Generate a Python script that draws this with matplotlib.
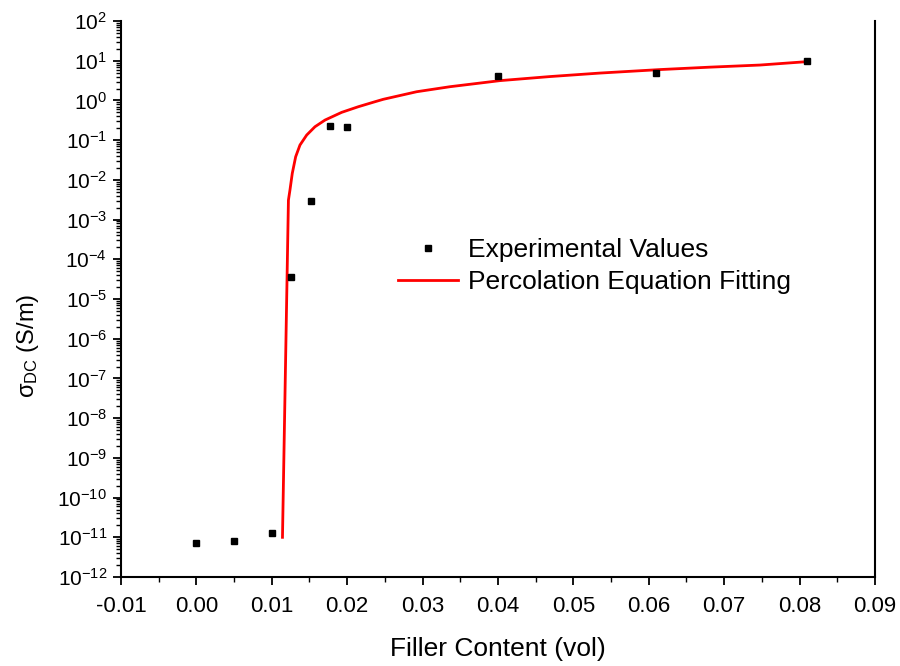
import matplotlib
matplotlib.use('Agg')
import matplotlib.pyplot as plt
from matplotlib.ticker import LogLocator, MultipleLocator, FormatStrFormatter, NullFormatter

matplotlib.rcParams['font.family'] = ['Liberation Sans', 'DejaVu Sans']
matplotlib.rcParams['mathtext.fontset'] = 'custom'
matplotlib.rcParams['mathtext.rm'] = 'Liberation Sans'
matplotlib.rcParams['mathtext.it'] = 'Liberation Sans:italic'
matplotlib.rcParams['mathtext.bf'] = 'Liberation Sans:bold'
matplotlib.rcParams['axes.unicode_minus'] = False

# measured conductivity vs filler volume fraction
filler = [0.0, 0.005, 0.010, 0.0126, 0.0152, 0.0177, 0.020, 0.040, 0.061, 0.081]
sigma = [7.3e-12, 8.1e-12, 1.32e-11, 3.5e-5, 2.95e-3, 0.227, 0.22, 4.2, 4.9, 9.8]

# percolation fit curve
fit_x = [0.01142, 0.01221, 0.01241, 0.01272, 0.01317, 0.01374, 0.01463, 0.01573,
         0.01706, 0.01927, 0.02147, 0.02369, 0.02479, 0.02922, 0.03363, 0.04027,
         0.04690, 0.05353, 0.06149, 0.06810, 0.07475, 0.08098]
fit_y = [1.0e-11, 3.1e-3, 5.5e-3, 0.0146, 0.0383, 0.0754, 0.1346, 0.218,
         0.321, 0.502, 0.695, 0.93, 1.07, 1.66, 2.22, 3.16,
         4.0, 4.9, 6.0, 6.9, 7.8, 9.5]

fig = plt.figure(figsize=(9, 6.66), dpi=100)
ax = fig.add_axes([0.1344, 0.1336, 0.8378, 0.8348])

ax.plot(filler, sigma, 's', color='black', markersize=5, label='Experimental Values', zorder=3)
ax.plot(fit_x, fit_y, '-', color='#ff0000', linewidth=2.0, label='Percolation Equation Fitting')

ax.set_yscale('log')
ax.set_xlim(-0.01, 0.09)
ax.set_ylim(1e-12, 1e2)

ax.xaxis.set_major_locator(MultipleLocator(0.01))
ax.xaxis.set_minor_locator(MultipleLocator(0.005))
ax.xaxis.set_major_formatter(FormatStrFormatter('%.2f'))
ax.yaxis.set_major_locator(LogLocator(base=10, numticks=20))
ax.yaxis.set_minor_locator(LogLocator(base=10, subs=range(2, 10), numticks=20))
ax.yaxis.set_minor_formatter(NullFormatter())

ax.tick_params(which='major', direction='out', length=6, width=1.3)
ax.tick_params(axis='x', which='major', pad=8, labelsize=16)
ax.tick_params(axis='y', which='major', pad=4, labelsize=15)
ax.tick_params(which='minor', direction='out', length=3.5, width=1.0)
ax.tick_params(top=False, right=False)

for side in ['left', 'bottom', 'right']:
    ax.spines[side].set_linewidth(1.5)
ax.spines['top'].set_visible(False)

ax.set_xlabel('Filler Content (vol)', fontsize=19, labelpad=14)
ax.set_ylabel('σ$_{\\mathrm{DC}}$ (S/m)', fontsize=17)
ax.yaxis.set_label_coords(-0.106, 0.415)

ax.legend(loc='upper left', bbox_to_anchor=(0.442, 0.643), bbox_transform=fig.transFigure,
          frameon=False, fontsize=19, handlelength=2.27, handletextpad=0.38,
          borderpad=0, borderaxespad=0, labelspacing=0.31, numpoints=1)

plt.savefig('out.png', dpi=100)
